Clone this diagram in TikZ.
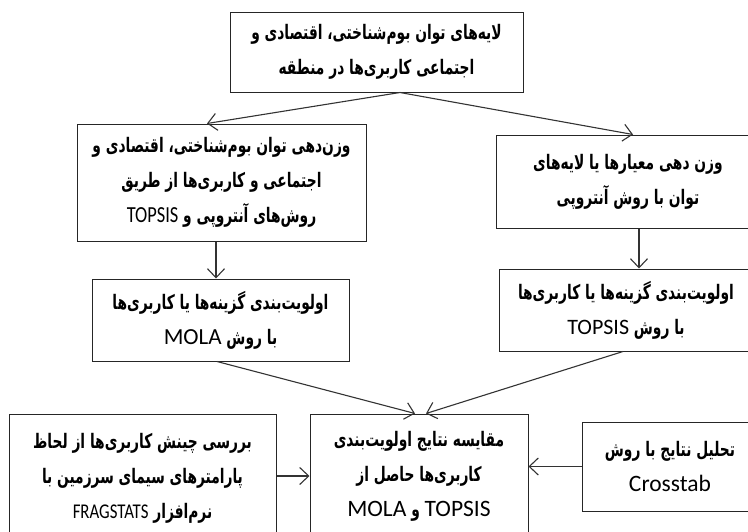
\documentclass[tikz,border=0pt]{standalone}
\usepackage{fontspec}
\usepackage{graphicx}
\usetikzlibrary{arrows.meta,calc}
\TeXXeTstate=1
\newfontfamily\arabicfont[Script=Arabic,FakeStretch=0.69]{DejaVu Sans}
\newfontfamily\latinfont{Carlito}
\newcommand\RL[1]{\beginR#1\endR}
\newcommand\LA[2][22]{\beginL{\latinfont\mdseries\fontsize{#1}{33}\selectfont #2}\endL}
\newcommand\LatCond[2][21]{\beginL\scalebox{0.8}[1]{\latinfont\mdseries\fontsize{#1}{33}\selectfont #2}\endL}
\begin{document}
\begin{tikzpicture}[x=1pt,y=-1pt,
  box/.style={draw=black!85, line width=1pt, inner sep=0pt, align=center,
    font=\arabicfont\bfseries\fontsize{20}{35}\selectfont},
  arr/.style={draw=black!80, line width=1.1pt, -{Straight Barb[length=9pt,width=17pt]}}]
\useasboundingbox (0,0) rectangle (748,531);
\clip (0,0) rectangle (748,531);
\fill[white] (0,0) rectangle (748,531);
\node[box, minimum width=293pt, minimum height=80pt] (top) at (376.5,52)
  {\RL{لایه‌های توان بوم‌شناختی، اقتصادی و}\\\RL{اجتماعی کاربری‌ها در منطقه}};
\node[box, minimum width=289pt, minimum height=117pt] (L2) at (221.5,182.5)
  {\RL{وزن‌دهی توان بوم‌شناختی، اقتصادی و}\\\RL{اجتماعی و کاربری‌ها از طریق}\\\RL{روش‌های آنتروپی و \LatCond[23]{TOPSIS}}};
\node[box, minimum width=263pt, minimum height=93pt] (R2) at (628,181.5)
  {\RL{وزن دهی معیارها یا لایه‌های}\\\RL{توان با روش آنتروپی}};
\node[box, minimum width=257pt, minimum height=82pt] (L3) at (220.5,320)
  {\RL{اولویت‌بندی گزینه‌ها یا کاربری‌ها}\\\RL{با روش \LA[23]{MOLA}}};
\node[box, minimum width=254pt, minimum height=82pt] (R3) at (626,310)
  {\RL{اولویت‌بندی گزینه‌ها یا کاربری‌ها}\\\RL{با روش \LA[22]{TOPSIS}}};
\node[box, minimum width=267pt, minimum height=128pt] (BL) at (142.5,478)
  {\RL{بررسی چینش کاربری‌ها از لحاظ}\\\RL{پارامترهای سیمای سرزمین با}\\\RL{نرم‌افزار \LatCond[21]{FRAGSTATS}}};
\node[box, minimum width=218pt, minimum height=124pt] (C) at (419,476)
  {\RL{مقایسه نتایج اولویت‌بندی}\\\RL{کاربری‌ها حاصل از}\\\RL{\LA[23.5]{TOPSIS} و \LA[23.5]{MOLA}}};
\node[box, minimum width=176pt, minimum height=89pt] (BR) at (670,466.5)
  {\RL{تحلیل نتایج با روش}\\\LA[23.5]{Crosstab}};
\draw[arr] ([xshift=23.5pt]top.south) -- ([xshift=-14.5pt]L2.north);
\draw[arr] ([xshift=23.5pt]top.south) -- ([xshift=5pt]R2.north);
\draw[arr] ([xshift=-5.5pt]L2.south) -- ([xshift=-4.5pt]L3.north);
\draw[arr] ([xshift=11pt]R2.south) -- ([xshift=13pt]R3.north);
\draw[arr] ([xshift=-3.5pt]L3.south) -- ([xshift=-4pt]C.north);
\draw[arr] ([xshift=-3pt]R3.south) -- ([xshift=7pt]C.north);
\draw[arr] (BL.east |- C.west) -- (C.west);
\draw[arr] (BR.west) -- (BR.west -| C.east);
\end{tikzpicture}
\end{document}
